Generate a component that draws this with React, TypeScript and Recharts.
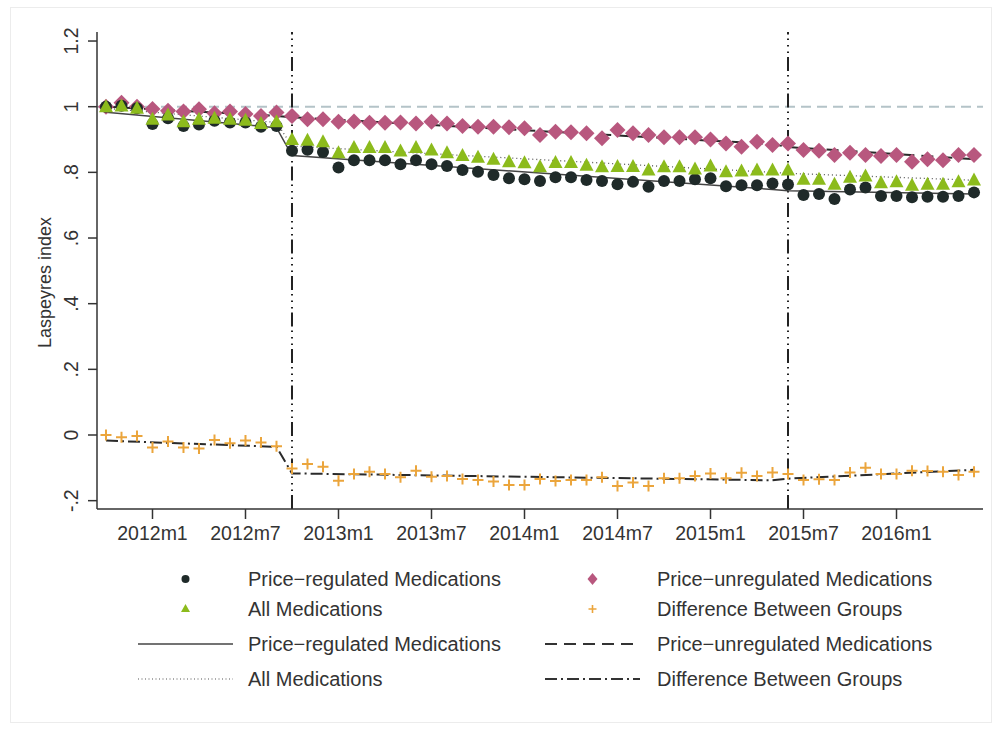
import { ComposedChart, Scatter, Line, XAxis, YAxis, ReferenceLine } from "recharts";

// Monthly index, 2011m10 .. 2016m6 (t = 0 .. 56)
const REGULATED = [
  1.0, 1.003, 0.995, 0.947, 0.965, 0.941, 0.946, 0.957, 0.952, 0.952, 0.939, 0.941,
  0.866, 0.869, 0.862, 0.815, 0.837, 0.837, 0.837,
  0.825, 0.837, 0.825, 0.819, 0.807, 0.802, 0.792, 0.782, 0.779,
  0.774, 0.785, 0.785, 0.777, 0.774, 0.764, 0.771, 0.756, 0.774, 0.774,
  0.779, 0.782, 0.758, 0.761, 0.761, 0.766, 0.763,
  0.731, 0.734, 0.719, 0.748, 0.754, 0.728, 0.728, 0.724, 0.726, 0.726, 0.728, 0.739,
];
const UNREGULATED = [
  1.0, 1.012, 1.0, 0.993, 0.988, 0.985, 0.992, 0.98, 0.985, 0.978, 0.972, 0.982,
  0.972, 0.962, 0.962, 0.954, 0.955, 0.951, 0.951,
  0.952, 0.949, 0.954, 0.949, 0.941, 0.939, 0.939, 0.937, 0.934,
  0.914, 0.924, 0.922, 0.919, 0.904, 0.929, 0.919, 0.914, 0.907, 0.907,
  0.907, 0.9, 0.888, 0.878, 0.893, 0.883, 0.888,
  0.868, 0.866, 0.853, 0.86, 0.853, 0.85, 0.853, 0.832, 0.84, 0.837, 0.853, 0.853,
];
const ALL_MEDS = [
  1.0, 1.002, 0.995, 0.962, 0.975, 0.954, 0.962, 0.965, 0.962, 0.959, 0.949, 0.954,
  0.9, 0.898, 0.893, 0.86, 0.876, 0.876, 0.876,
  0.865, 0.876, 0.868, 0.86, 0.851, 0.846, 0.84, 0.832, 0.829,
  0.817, 0.83, 0.83, 0.822, 0.817, 0.818, 0.818, 0.807, 0.817, 0.817,
  0.81, 0.819, 0.802, 0.804, 0.807, 0.807, 0.807,
  0.779, 0.779, 0.764, 0.785, 0.789, 0.768, 0.771, 0.761, 0.764, 0.764, 0.771, 0.777,
];
const DIFFERENCE = [
  0.0, -0.007, -0.003, -0.038, -0.02, -0.038, -0.041, -0.015, -0.025, -0.017, -0.023, -0.034,
  -0.102, -0.088, -0.097, -0.139, -0.119, -0.112, -0.119,
  -0.129, -0.109, -0.127, -0.125, -0.134, -0.137, -0.142, -0.152, -0.152,
  -0.134, -0.14, -0.137, -0.137, -0.129, -0.155, -0.145, -0.155, -0.132, -0.132,
  -0.125, -0.117, -0.132, -0.115, -0.125, -0.114, -0.119,
  -0.137, -0.135, -0.137, -0.114, -0.1, -0.119, -0.119, -0.109, -0.11, -0.112, -0.122, -0.112,
];

// fitted (segmented regression) lines: values at segment ends
const FIT_MONTHS = [0, 11, 12, 43, 44, 56];
const FIT_REGULATED = [0.983, 0.936, 0.851, 0.748, 0.744, 0.734];
const FIT_UNREGULATED = [1.0, 0.972, 0.968, 0.886, 0.877, 0.84];
const FIT_ALL = [0.995, 0.952, 0.88, 0.8, 0.797, 0.776];
const FIT_DIFFERENCE = [-0.017, -0.036, -0.117, -0.138, -0.133, -0.106];

const POLICY_MONTHS = [12, 44];

const X_TICKS = [3, 9, 15, 21, 27, 33, 39, 45, 51];
const X_TICK_LABELS = ["2012m1", "2012m7", "2013m1", "2013m7", "2014m1", "2014m7", "2015m1", "2015m7", "2016m1"];
const Y_TICKS = [-0.2, 0, 0.2, 0.4, 0.6, 0.8, 1, 1.2];
const Y_TICK_LABELS = ["-.2", "0", ".2", ".4", ".6", ".8", "1", "1.2"];

const FONT = '"Liberation Sans", Arial, Helvetica, sans-serif';
const INK = "#333";
const C_REG = "#1f2a29";
const C_UNREG = "#b8577e";
const C_ALL = "#8cbb1c";
const C_DIFF = "#eba53c";

const fitAt = (vals: number[], t: number) => {
  const i = FIT_MONTHS.indexOf(t);
  return i >= 0 ? vals[i] : null;
};

const rows = REGULATED.map((v, t) => ({
  t,
  reg: v,
  unreg: UNREGULATED[t],
  all: ALL_MEDS[t],
  diff: DIFFERENCE[t],
  fitReg: fitAt(FIT_REGULATED, t),
  fitUnreg: fitAt(FIT_UNREGULATED, t),
  fitAll: fitAt(FIT_ALL, t),
  fitDiff: fitAt(FIT_DIFFERENCE, t),
}));

// marker shapes
const Dot = (p: any) => <circle cx={p.cx} cy={p.cy} r={6} fill={C_REG} />;
const Tri = (p: any) => (
  <polygon
    points={`${p.cx},${p.cy - 7.5} ${p.cx - 7},${p.cy + 5.5} ${p.cx + 7},${p.cy + 5.5}`}
    fill={C_ALL}
  />
);
const Diamond = (p: any) => (
  <polygon
    points={`${p.cx},${p.cy - 8} ${p.cx + 8},${p.cy} ${p.cx},${p.cy + 8} ${p.cx - 8},${p.cy}`}
    fill={C_UNREG}
  />
);
const Plus = (p: any) => (
  <path
    d={`M${p.cx - 5.5},${p.cy}H${p.cx + 5.5}M${p.cx},${p.cy - 5.5}V${p.cy + 5.5}`}
    stroke={C_DIFF}
    strokeWidth={2}
    fill="none"
  />
);

function YTick({ x, y, payload }: any) {
  const i = Y_TICKS.indexOf(payload.value);
  const cx = x - 15;
  return (
    <text
      x={cx}
      y={y}
      dy="0.36em"
      transform={`rotate(-90 ${cx} ${y})`}
      textAnchor="middle"
      fontSize={19.5}
      fill={INK}
      fontFamily={FONT}
    >
      {i >= 0 ? Y_TICK_LABELS[i] : payload.value}
    </text>
  );
}

function XTick({ x, y, payload }: any) {
  const i = X_TICKS.indexOf(payload.value);
  return (
    <text x={x} y={y} dy="0.71em" textAnchor="middle" fontSize={19.5} fill={INK} fontFamily={FONT}>
      {i >= 0 ? X_TICK_LABELS[i] : payload.value}
    </text>
  );
}

function YTitle({ viewBox }: any) {
  const cx = viewBox.x + 45;
  const cy = viewBox.y + viewBox.height / 2 + 12;
  return (
    <text
      x={cx}
      y={cy}
      dy="0.36em"
      transform={`rotate(-90 ${cx} ${cy})`}
      textAnchor="middle"
      fontSize={18}
      fill={INK}
      fontFamily={FONT}
    >
      Laspeyres index
    </text>
  );
}

type Kind = "circle" | "triangle" | "diamond" | "plus" | "solid" | "dash" | "dot" | "dashdot";

const LEGEND_ITEMS: { kind: Kind; label: string }[][] = [
  [
    { kind: "circle", label: "Price\u2212regulated Medications" },
    { kind: "diamond", label: "Price\u2212unregulated Medications" },
  ],
  [
    { kind: "triangle", label: "All Medications" },
    { kind: "plus", label: "Difference Between Groups" },
  ],
  [
    { kind: "solid", label: "Price\u2212regulated Medications" },
    { kind: "dash", label: "Price\u2212unregulated Medications" },
  ],
  [
    { kind: "dot", label: "All Medications" },
    { kind: "dashdot", label: "Difference Between Groups" },
  ],
];
const LEGEND_ROW_Y = [579, 609, 644, 679];
const LEGEND_COL_SAMPLE_X = [138, 545];
const LEGEND_COL_TEXT_X = [248, 657];

function Sample({ kind }: { kind: Kind }) {
  const w = 95;
  const m = w / 2;
  let el: any = null;
  if (kind === "circle") el = <circle cx={m} cy={10} r={4} fill={C_REG} />;
  if (kind === "triangle") el = <polygon points={`${m},5 ${m - 4.5},13 ${m + 4.5},13`} fill={C_ALL} />;
  if (kind === "diamond") el = <polygon points={`${m},4 ${m + 5},10 ${m},16 ${m - 5},10`} fill={C_UNREG} />;
  if (kind === "plus")
    el = <path d={`M${m - 4},10H${m + 4}M${m},6V14`} stroke={C_DIFF} strokeWidth={1.6} />;
  if (kind === "solid") el = <line x1={0} x2={w} y1={10} y2={10} stroke="#444" strokeWidth={1.5} />;
  if (kind === "dash")
    el = <line x1={0} x2={w} y1={10} y2={10} stroke="#333" strokeWidth={2} strokeDasharray="12 7" />;
  if (kind === "dot")
    el = <line x1={0} x2={w} y1={10} y2={10} stroke="#555" strokeWidth={1.2} strokeDasharray="1 2.5" />;
  if (kind === "dashdot")
    el = <line x1={0} x2={w} y1={10} y2={10} stroke="#333" strokeWidth={2} strokeDasharray="12 4 2 4" />;
  return (
    <svg width={w} height={20} style={{ display: "block" }}>
      {el}
    </svg>
  );
}

export default function App() {
  return (
    <div
      style={{
        position: "absolute",
        left: 0,
        top: 0,
        width: 999,
        height: 730,
        background: "#fff",
        fontFamily: FONT,
      }}
    >
      <div
        style={{
          position: "absolute",
          left: 10,
          top: 7,
          width: 980,
          height: 714,
          border: "1px solid #ececec",
        }}
      />
      <ComposedChart
        width={999}
        height={730}
        data={rows}
        margin={{ top: 32, right: 16, bottom: 181, left: 0 }}
        style={{ position: "absolute", left: 0, top: 0 }}
      >
        <XAxis
          dataKey="t"
          type="number"
          domain={[-0.58, 56.58]}
          allowDataOverflow
          ticks={X_TICKS}
          tick={<XTick />}
          tickSize={10}
          tickMargin={7}
          height={40}
          axisLine={{ stroke: INK, strokeWidth: 1.5 }}
          tickLine={{ stroke: INK, strokeWidth: 1.5 }}
        />
        <YAxis
          type="number"
          domain={[-0.2254, 1.2275]}
          allowDataOverflow
          ticks={Y_TICKS}
          tick={<YTick />}
          tickSize={9}
          tickMargin={2}
          width={97}
          axisLine={{ stroke: INK, strokeWidth: 1.5 }}
          tickLine={{ stroke: INK, strokeWidth: 1.5 }}
          label={<YTitle />}
        />
        <ReferenceLine y={1} stroke="#b4c3c8" strokeWidth={2} strokeDasharray="10 6" />
        {POLICY_MONTHS.map((m) => (
          <ReferenceLine
            key={m}
            x={m}
            stroke="#222"
            strokeWidth={2}
            strokeDasharray="14 4 1.5 5 1.5 5 1.5 4"
          />
        ))}
        <Scatter dataKey="unreg" shape={<Diamond />} isAnimationActive={false} />
        <Scatter dataKey="reg" shape={<Dot />} isAnimationActive={false} />
        <Scatter dataKey="all" shape={<Tri />} isAnimationActive={false} />
        <Scatter dataKey="diff" shape={<Plus />} isAnimationActive={false} />
        <Line
          dataKey="fitReg"
          stroke="#444"
          strokeWidth={1.5}
          dot={false}
          connectNulls
          isAnimationActive={false}
        />
        <Line
          dataKey="fitUnreg"
          stroke="#2a2a2a"
          strokeWidth={2}
          strokeDasharray="12 7"
          dot={false}
          connectNulls
          isAnimationActive={false}
        />
        <Line
          dataKey="fitAll"
          stroke="#555"
          strokeWidth={1.3}
          strokeDasharray="1 3"
          dot={false}
          connectNulls
          isAnimationActive={false}
        />
        <Line
          dataKey="fitDiff"
          stroke="#2a2a2a"
          strokeWidth={2}
          strokeDasharray="12 4 2 4"
          dot={false}
          connectNulls
          isAnimationActive={false}
        />
      </ComposedChart>
      {LEGEND_ITEMS.map((row, r) =>
        row.map((item, c) => (
          <div key={`${r}-${c}`}>
            <div
              style={{
                position: "absolute",
                left: LEGEND_COL_SAMPLE_X[c],
                top: LEGEND_ROW_Y[r] - 10,
              }}
            >
              <Sample kind={item.kind} />
            </div>
            <div
              style={{
                position: "absolute",
                left: LEGEND_COL_TEXT_X[c],
                top: LEGEND_ROW_Y[r] - 12,
                fontSize: 20,
                lineHeight: "24px",
                color: INK,
                whiteSpace: "nowrap",
              }}
            >
              {item.label}
            </div>
          </div>
        ))
      )}
    </div>
  );
}
